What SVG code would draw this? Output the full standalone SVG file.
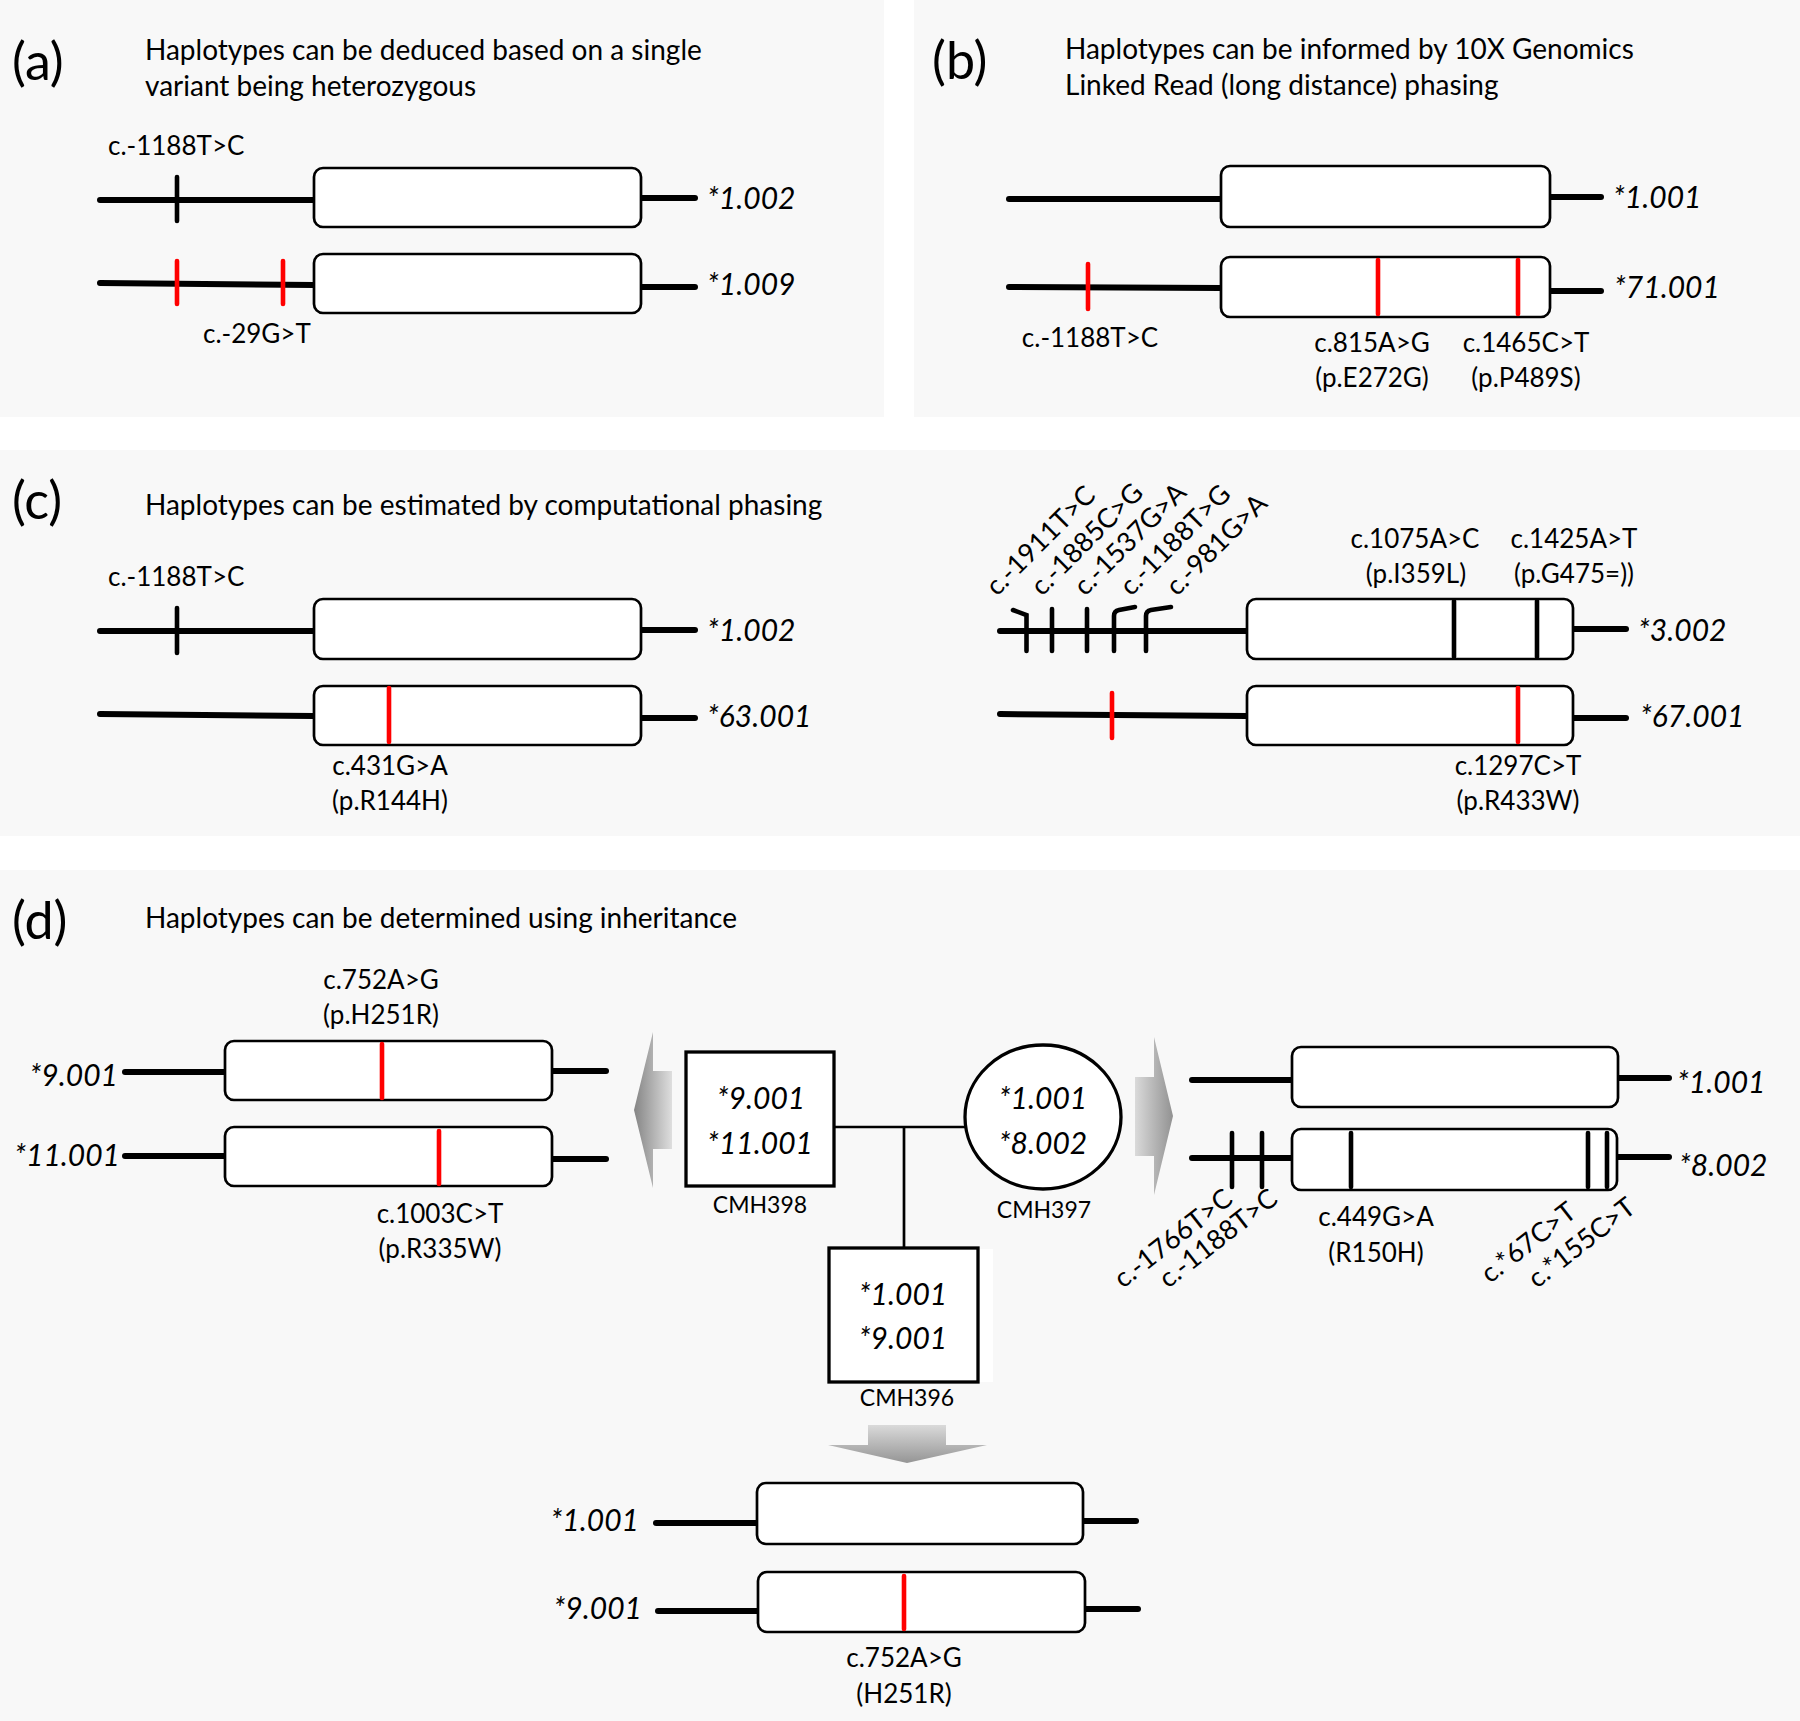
<svg xmlns="http://www.w3.org/2000/svg" width="1800" height="1721" viewBox="0 0 1800 1721">
<defs>
<linearGradient id="gL" x1="0" y1="0" x2="1" y2="0"><stop offset="0" stop-color="#858585"/><stop offset="1" stop-color="#dedede"/></linearGradient>
<linearGradient id="gR" x1="0" y1="0" x2="1" y2="0"><stop offset="0" stop-color="#dadada"/><stop offset="1" stop-color="#929292"/></linearGradient>
<linearGradient id="gD" x1="0" y1="0" x2="0" y2="1"><stop offset="0" stop-color="#dadada"/><stop offset="1" stop-color="#959595"/></linearGradient>
</defs>
<style>
.bg{fill:#f8f8f8}
.t{font-family:Lato,"Liberation Sans",sans-serif;fill:#000}
.pl{font-size:52px}
.ti{font-size:28px}
.v{font-size:26px}
.vr{font-size:27px}
.al{font-size:30px;font-style:italic}
.cm{font-size:23px}
.m{text-anchor:middle}
.e{text-anchor:end}
.ln{stroke:#000;stroke-width:6;stroke-linecap:round;fill:none}
.bx{fill:#fff;stroke:#000;stroke-width:2.7}
.tk{stroke:#000;stroke-width:4.6;stroke-linecap:round;fill:none}
.rd{stroke:#ff0000;stroke-width:4.6;stroke-linecap:round;fill:none}
.pc{stroke:#000;stroke-width:2.7;fill:none}
.nd{fill:#fff;stroke:#000;stroke-width:3.3}
</style>
<rect width="1800" height="1721" fill="#fff"/>
<rect class="bg" x="0" y="0" width="884" height="417"/>
<rect class="bg" x="914" y="0" width="886" height="417"/>
<rect class="bg" x="0" y="450" width="1800" height="386"/>
<rect class="bg" x="0" y="870" width="1800" height="851"/>

<!-- Panel a -->
<g id="panel-a">
<text class="t pl" x="12" y="80">(a)</text>
<text class="t ti" x="145" y="60">Haplotypes can be deduced based on a single</text>
<text class="t ti" x="145" y="96">variant being heterozygous</text>
<text class="t v" x="108" y="155">c.-1188T&gt;C</text>
<g id="a-hap1">
<line class="ln" x1="100" y1="200" x2="314" y2="200"/>
<line class="ln" x1="641" y1="198" x2="695" y2="198"/>
<rect class="bx" x="314" y="168" width="327" height="59" rx="9"/>
<line class="tk" x1="177" y1="177" x2="177" y2="221"/>
<text class="t al" x="707" y="209">*1.002</text>
</g>
<g id="a-hap2">
<line class="ln" x1="100" y1="283" x2="314" y2="285"/>
<line class="ln" x1="641" y1="287" x2="695" y2="287"/>
<rect class="bx" x="314" y="254" width="327" height="59" rx="9"/>
<line class="rd" x1="177" y1="261" x2="177" y2="304"/>
<line class="rd" x1="283" y1="261" x2="283" y2="304"/>
<text class="t al" x="707" y="295">*1.009</text>
</g>
<text class="t v" x="203" y="343">c.-29G&gt;T</text>
</g>

<!-- Panel b -->
<g id="panel-b">
<text class="t pl" x="932" y="79">(b)</text>
<text class="t ti" x="1065" y="59">Haplotypes can be informed by 10X Genomics</text>
<text class="t ti" x="1065" y="95">Linked Read (long distance) phasing</text>
<g id="b-hap1">
<line class="ln" x1="1009" y1="199" x2="1221" y2="199"/>
<line class="ln" x1="1550" y1="197" x2="1601" y2="197"/>
<rect class="bx" x="1221" y="166" width="329" height="61" rx="9"/>
<text class="t al" x="1613" y="208">*1.001</text>
</g>
<g id="b-hap2">
<line class="ln" x1="1009" y1="287" x2="1221" y2="288"/>
<line class="ln" x1="1550" y1="291" x2="1601" y2="291"/>
<rect class="bx" x="1221" y="257" width="329" height="60" rx="9"/>
<line class="rd" x1="1088" y1="264" x2="1088" y2="309"/>
<line class="rd" x1="1378" y1="260" x2="1378" y2="314"/>
<line class="rd" x1="1518" y1="260" x2="1518" y2="314"/>
<text class="t al" x="1614" y="298">*71.001</text>
</g>
<text class="t v m" x="1090" y="347">c.-1188T&gt;C</text>
<text class="t v m" x="1372" y="352">c.815A&gt;G</text>
<text class="t v m" x="1372" y="387">(p.E272G)</text>
<text class="t v m" x="1526" y="352">c.1465C&gt;T</text>
<text class="t v m" x="1526" y="387">(p.P489S)</text>
</g>

<!-- Panel c -->
<g id="panel-c">
<text class="t pl" x="12" y="519">(c)</text>
<text class="t ti" x="145" y="515">Haplotypes can be estimated by computational phasing</text>
<text class="t v" x="108" y="586">c.-1188T&gt;C</text>
<g id="c-hap1">
<line class="ln" x1="100" y1="631" x2="314" y2="631"/>
<line class="ln" x1="641" y1="630" x2="695" y2="630"/>
<rect class="bx" x="314" y="599" width="327" height="60" rx="9"/>
<line class="tk" x1="177" y1="608" x2="177" y2="653"/>
<text class="t al" x="707" y="641">*1.002</text>
</g>
<g id="c-hap2">
<line class="ln" x1="100" y1="714" x2="314" y2="716"/>
<line class="ln" x1="641" y1="718" x2="695" y2="718"/>
<rect class="bx" x="314" y="686" width="327" height="59" rx="9"/>
<line class="rd" x1="389" y1="688" x2="389" y2="742"/>
<text class="t al" x="707" y="727">*63.001</text>
</g>
<text class="t v m" x="390" y="775">c.431G&gt;A</text>
<text class="t v m" x="390" y="810">(p.R144H)</text>

<text class="t vr" transform="translate(997,597) rotate(-45)">c.-1911T&gt;C</text>
<text class="t vr" transform="translate(1042,597) rotate(-45)">c.-1885C&gt;G</text>
<text class="t vr" transform="translate(1085,597) rotate(-45)">c.-1537G&gt;A</text>
<text class="t vr" transform="translate(1131,597) rotate(-45)">c.-1188T&gt;G</text>
<text class="t vr" transform="translate(1177,597) rotate(-45)">c.-981G&gt;A</text>
<text class="t v m" x="1415" y="548">c.1075A&gt;C</text>
<text class="t v m" x="1416" y="583">(p.I359L)</text>
<text class="t v m" x="1574" y="548">c.1425A&gt;T</text>
<text class="t v m" x="1574" y="583">(p.G475=))</text>
<g id="c-hap3">
<line class="ln" x1="1000" y1="631" x2="1247" y2="631"/>
<path class="tk" d="M1013,610 L1026.5,615 L1026.5,651"/>
<line class="tk" x1="1052" y1="609" x2="1052" y2="651"/>
<line class="tk" x1="1087" y1="609" x2="1087" y2="651"/>
<path class="tk" d="M1114,651 L1114,616 Q1114,611 1119,610 L1135,607"/>
<path class="tk" d="M1146,651 L1146,616 Q1146,611 1151,610 L1171,607"/>
<line class="ln" x1="1573" y1="629" x2="1626" y2="629"/>
<rect class="bx" x="1247" y="599" width="326" height="60" rx="9"/>
<line class="tk" x1="1454" y1="601" x2="1454" y2="657"/>
<line class="tk" x1="1537" y1="601" x2="1537" y2="657"/>
<text class="t al" x="1638" y="641">*3.002</text>
</g>
<g id="c-hap4">
<line class="ln" x1="1000" y1="714" x2="1247" y2="716"/>
<line class="rd" x1="1112" y1="693" x2="1112" y2="738"/>
<line class="ln" x1="1573" y1="718" x2="1626" y2="718"/>
<rect class="bx" x="1247" y="686" width="326" height="59" rx="9"/>
<line class="rd" x1="1518" y1="688" x2="1518" y2="742"/>
<text class="t al" x="1640" y="727">*67.001</text>
</g>
<text class="t v m" x="1518" y="775">c.1297C&gt;T</text>
<text class="t v m" x="1518" y="810">(p.R433W)</text>
</g>

<!-- Panel d -->
<g id="panel-d">
<text class="t pl" x="12" y="939">(d)</text>
<text class="t ti" x="145" y="928">Haplotypes can be determined using inheritance</text>

<g id="d-father-haps">
<text class="t v m" x="381" y="989">c.752A&gt;G</text>
<text class="t v m" x="381" y="1024">(p.H251R)</text>
<text class="t al e" x="118" y="1086">*9.001</text>
<line class="ln" x1="125" y1="1072" x2="225" y2="1072"/>
<line class="ln" x1="552" y1="1071" x2="606" y2="1071"/>
<rect class="bx" x="225" y="1041" width="327" height="59" rx="9"/>
<line class="rd" x1="382" y1="1044" x2="382" y2="1098"/>
<text class="t al e" x="120" y="1166">*11.001</text>
<line class="ln" x1="125" y1="1156" x2="225" y2="1156"/>
<line class="ln" x1="552" y1="1159" x2="606" y2="1159"/>
<rect class="bx" x="225" y="1127" width="327" height="59" rx="9"/>
<line class="rd" x1="439" y1="1131" x2="439" y2="1184"/>
<text class="t v m" x="440" y="1223">c.1003C&gt;T</text>
<text class="t v m" x="440" y="1258">(p.R335W)</text>
</g>

<polygon id="arrow-left" fill="url(#gL)" points="634,1110 653,1032 653,1071 672,1071 672,1149 653,1149 653,1188"/>
<polygon id="arrow-right" fill="url(#gR)" points="1135,1077 1154,1077 1154,1037 1173,1116 1154,1195 1154,1156 1135,1156"/>
<polygon id="arrow-down" fill="url(#gD)" points="868,1425 946,1425 946,1445 987,1445 907,1463 828,1445 868,1445"/>

<g id="connectors">
<line class="pc" x1="834" y1="1127" x2="966" y2="1127"/>
<line class="pc" x1="904" y1="1127" x2="904" y2="1248"/>
</g>

<g id="node-CMH398">
<rect class="nd" x="686" y="1052" width="148" height="134"/>
<text class="t al m" x="761" y="1109">*9.001</text>
<text class="t al m" x="760" y="1154">*11.001</text>
<text class="t cm m" x="760" y="1213">CMH398</text>
</g>
<g id="node-CMH397">
<ellipse class="nd" cx="1043" cy="1117" rx="78" ry="72"/>
<text class="t al m" x="1043" y="1109">*1.001</text>
<text class="t al m" x="1043" y="1154">*8.002</text>
<text class="t cm m" x="1044" y="1218">CMH397</text>
</g>
<g id="node-CMH396">
<rect x="846" y="1249" width="147" height="133" fill="#fff"/>
<rect class="nd" x="829" y="1248" width="149" height="134" fill="none"/>
<text class="t al m" x="903" y="1305">*1.001</text>
<text class="t al m" x="903" y="1349">*9.001</text>
<text class="t cm m" x="907" y="1406">CMH396</text>
</g>

<g id="d-mother-haps">
<line class="ln" x1="1192" y1="1080" x2="1292" y2="1080"/>
<line class="ln" x1="1618" y1="1078" x2="1669" y2="1078"/>
<rect class="bx" x="1292" y="1047" width="326" height="60" rx="9"/>
<text class="t al" x="1677" y="1093">*1.001</text>
<line class="ln" x1="1192" y1="1158" x2="1292" y2="1158"/>
<line class="tk" x1="1232" y1="1133" x2="1232" y2="1187"/>
<line class="tk" x1="1262" y1="1133" x2="1262" y2="1187"/>
<line class="ln" x1="1617" y1="1157" x2="1669" y2="1157"/>
<rect class="bx" x="1292" y="1129" width="325" height="61" rx="9"/>
<line class="tk" x1="1351" y1="1133" x2="1351" y2="1187"/>
<line class="tk" x1="1588" y1="1133" x2="1588" y2="1187"/>
<line class="tk" x1="1607" y1="1133" x2="1607" y2="1187"/>
<text class="t al" x="1679" y="1176">*8.002</text>
<text class="t vr" transform="translate(1123,1289) rotate(-38)">c.-1766T&gt;C</text>
<text class="t vr" transform="translate(1168,1289) rotate(-38)">c.-1188T&gt;C</text>
<text class="t v m" x="1376" y="1226">c.449G&gt;A</text>
<text class="t v m" x="1376" y="1262">(R150H)</text>
<text class="t vr" transform="translate(1490,1284) rotate(-38)">c.*67C&gt;T</text>
<text class="t vr" transform="translate(1537,1289) rotate(-38)">c.*155C&gt;T</text>
</g>

<g id="d-child-haps">
<text class="t al e" x="639" y="1531">*1.001</text>
<line class="ln" x1="656" y1="1523" x2="757" y2="1523"/>
<line class="ln" x1="1083" y1="1521" x2="1136" y2="1521"/>
<rect class="bx" x="757" y="1483" width="326" height="61" rx="9"/>
<text class="t al e" x="642" y="1619">*9.001</text>
<line class="ln" x1="658" y1="1611" x2="758" y2="1611"/>
<line class="ln" x1="1085" y1="1609" x2="1138" y2="1609"/>
<rect class="bx" x="758" y="1572" width="327" height="60" rx="9"/>
<line class="rd" x1="904" y1="1576" x2="904" y2="1629"/>
<text class="t v m" x="904" y="1667">c.752A&gt;G</text>
<text class="t v m" x="904" y="1703">(H251R)</text>
</g>
</g>
</svg>
